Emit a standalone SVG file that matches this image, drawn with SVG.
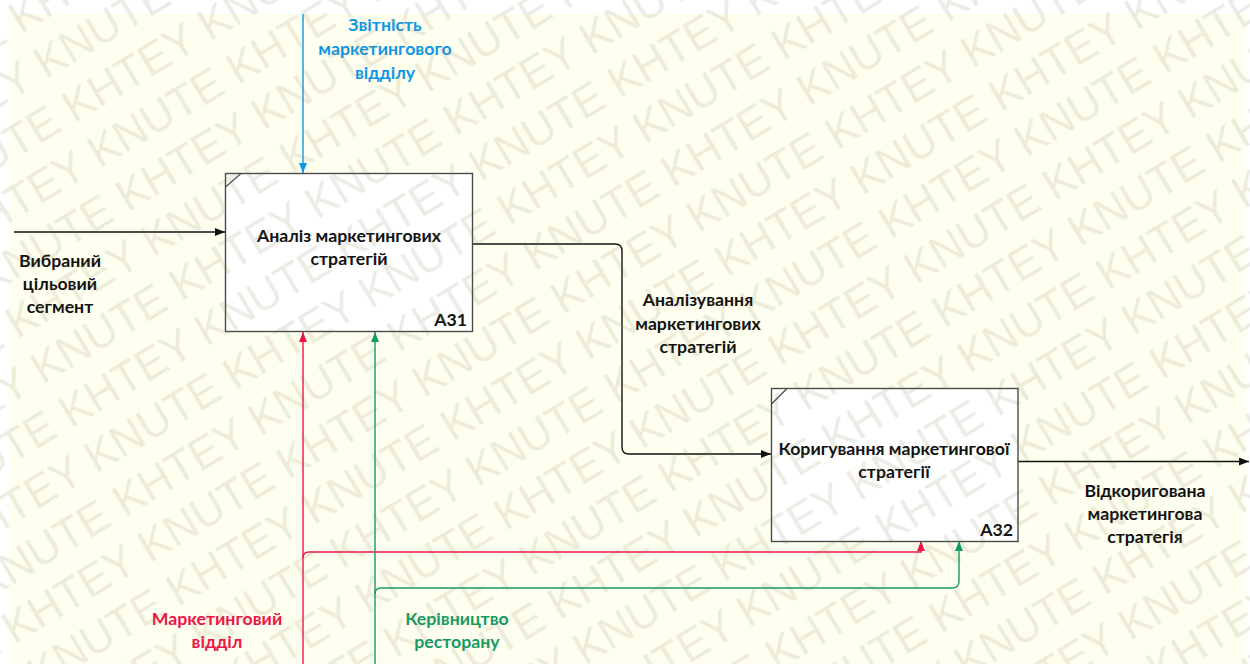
<svg xmlns="http://www.w3.org/2000/svg" width="1250" height="664" viewBox="0 0 1250 664">
<style>
.box{fill:#ffffff;stroke:#4a4a4a;stroke-width:1.4}
.diag{stroke:#4a4a4a;stroke-width:1.2;fill:none}
.lbl{font-family:Lato,"Liberation Sans",sans-serif;font-weight:bold;font-size:17.7px;text-anchor:middle}
.num{font-family:Lato,"Liberation Sans",sans-serif;font-weight:bold;font-size:17.7px;text-anchor:end;fill:#111}
.k{fill:#111}
.blue{fill:#0d97e6}
.red{fill:#ee1446}
.green{fill:#149a65}
.ln{fill:none;stroke-width:1.4}
.wm{font-family:"Liberation Sans",Arial,sans-serif;font-size:44px;fill:#7a7a4a}
</style>
<defs>
<marker id="aK" viewBox="0 0 10 8" refX="10" refY="4" markerWidth="10" markerHeight="8" markerUnits="userSpaceOnUse" orient="auto"><path d="M0,0 L10,4 L0,8 z" fill="#111"/></marker>
<marker id="aB" viewBox="0 0 10 8" refX="10" refY="4" markerWidth="10" markerHeight="8" markerUnits="userSpaceOnUse" orient="auto"><path d="M0,0 L10,4 L0,8 z" fill="#0d97e6"/></marker>
<marker id="aR" viewBox="0 0 10 8" refX="10" refY="4" markerWidth="10" markerHeight="8" markerUnits="userSpaceOnUse" orient="auto"><path d="M0,0 L10,4 L0,8 z" fill="#ee1446"/></marker>
<marker id="aG" viewBox="0 0 10 8" refX="10" refY="4" markerWidth="10" markerHeight="8" markerUnits="userSpaceOnUse" orient="auto"><path d="M0,0 L10,4 L0,8 z" fill="#149a65"/></marker>
<pattern id="wmp" patternUnits="userSpaceOnUse" width="320" height="104" patternTransform="rotate(-31)">
<text class="wm" x="0" y="40">KHTEY KNUTE</text>
<text class="wm" x="160" y="92">KHTEY KNUTE</text>
<text class="wm" x="-160" y="92">KHTEY KNUTE</text>
</pattern>
</defs>
<rect x="0" y="0" width="1250" height="664" fill="#ffffff"/>
<rect x="9" y="14" width="1237" height="650" fill="#fffff0"/>

<g id="connectors">
<path class="ln" stroke="#0d97e6" d="M303,14 V173" marker-end="url(#aB)"/>
<path class="ln" stroke="#111" d="M14,232 H225" marker-end="url(#aK)"/>
<path class="ln" stroke="#111" d="M472,244 H615 Q622,244 622,251 V447 Q622,454 629,454 H771" marker-end="url(#aK)"/>
<path class="ln" stroke="#111" d="M1018,461.5 H1249" marker-end="url(#aK)"/>
<path class="ln" stroke="#ee1446" d="M303,664 V332" marker-end="url(#aR)"/>
<path class="ln" stroke="#ee1446" d="M303,558 Q303,552 309,552 H921 V541" marker-end="url(#aR)"/>
<path class="ln" stroke="#149a65" d="M375,664 V332" marker-end="url(#aG)"/>
<path class="ln" stroke="#149a65" d="M375,594 Q375,588 381,588 H952 Q959,588 959,581 V541" marker-end="url(#aG)"/>
</g>

<g id="A31">
<rect class="box" x="225.5" y="173.5" width="247" height="158"/>
<path class="diag" d="M225.5,187 L241,173.5"/>
<text class="lbl k" x="349" y="242">Аналіз маркетингових</text>
<text class="lbl k" x="349" y="265">стратегій</text>
<text class="num" x="467" y="326">A31</text>
</g>

<g id="A32">
<rect class="box" x="771.5" y="388.5" width="246.5" height="153"/>
<path class="diag" d="M771.5,404 L787,388.5"/>
<text class="lbl k" x="894" y="455">Коригування маркетингової</text>
<text class="lbl k" x="894" y="478">стратегії</text>
<text class="num" x="1013" y="536">A32</text>
</g>

<g id="labels">
<text class="lbl blue" x="385" y="31">Звітність</text>
<text class="lbl blue" x="385" y="55">маркетингового</text>
<text class="lbl blue" x="385" y="79">відділу</text>
<text class="lbl k" x="60" y="267">Вибраний</text>
<text class="lbl k" x="60" y="290">цільовий</text>
<text class="lbl k" x="60" y="313">сегмент</text>
<text class="lbl k" x="698" y="306">Аналізування</text>
<text class="lbl k" x="698" y="330">маркетингових</text>
<text class="lbl k" x="698" y="353">стратегій</text>
<text class="lbl k" x="1145" y="497">Відкоригована</text>
<text class="lbl k" x="1145" y="520">маркетингова</text>
<text class="lbl k" x="1145" y="543">стратегія</text>
<text class="lbl red" x="217" y="625">Маркетинговий</text>
<text class="lbl red" x="217" y="648">відділ</text>
<text class="lbl green" x="457" y="625">Керівництво</text>
<text class="lbl green" x="457" y="648">ресторану</text>
</g>

<rect x="0" y="0" width="1250" height="664" fill="url(#wmp)" opacity="0.14"/>
</svg>
